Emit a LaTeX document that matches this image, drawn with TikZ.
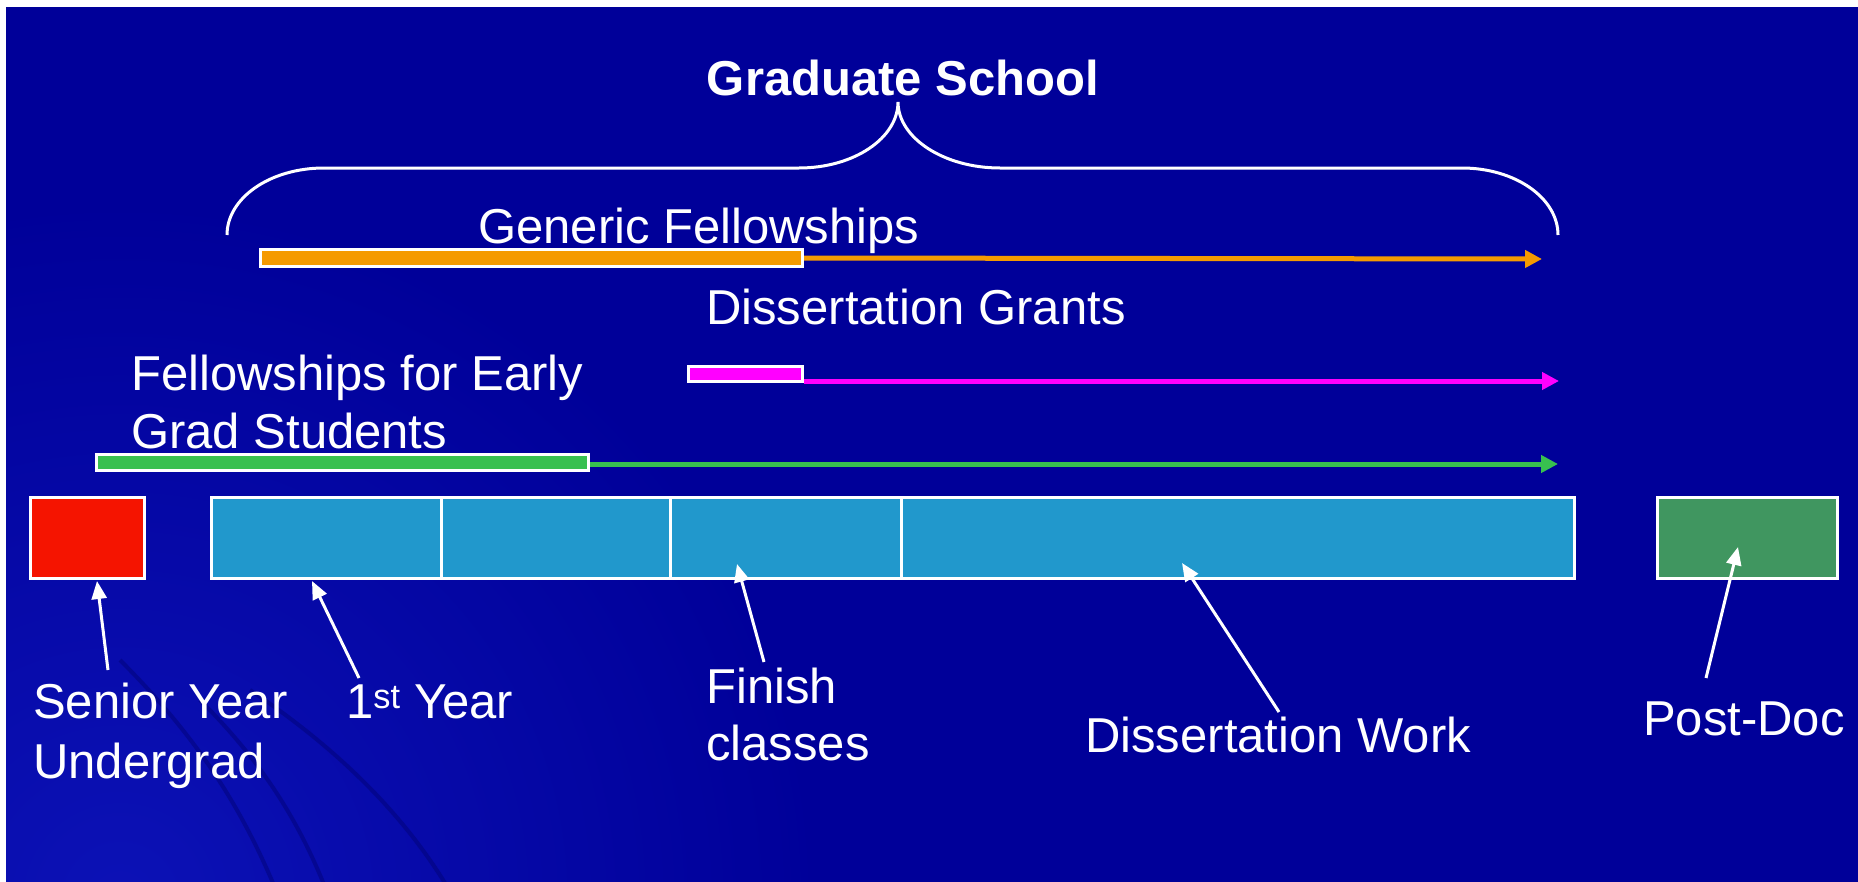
\documentclass[tikz,border=0pt]{standalone}
\usepackage{fontspec}
\setmainfont{Liberation Sans}
\usetikzlibrary{arrows.meta,calc}
\definecolor{bg}{RGB}{0,0,153}
\definecolor{bglight}{RGB}{12,18,182}
\definecolor{swoosh}{RGB}{0,0,105}
\definecolor{redbox}{RGB}{245,20,0}
\definecolor{cellblue}{RGB}{33,152,204}
\definecolor{pdgreen}{RGB}{64,150,96}
\definecolor{orangebar}{RGB}{245,154,0}
\definecolor{magbar}{RGB}{255,0,255}
\definecolor{greenbar}{RGB}{56,192,80}
\tikzset{
  box/.style={draw=white, line width=3pt, inner sep=0pt, outer sep=0pt, minimum height=81pt},
  bar/.style={draw=white, line width=3pt, inner sep=0pt, outer sep=1.5pt},
  lbl/.style={text=white, font=\fontsize{49}{58}\selectfont, inner sep=0pt, anchor=base west},
  ptr/.style={white, line width=3pt, -{Triangle[length=18pt,width=15pt]}},
  run/.style={line width=5pt, -{Triangle[length=17pt,width=17pt]}},
  brace/.style={white, line width=3pt},
  swooshline/.style={swoosh, line width=4pt, opacity=0.4}
}
\begin{document}
\begin{tikzpicture}[x=1pt,y=-1pt]
\useasboundingbox (0,0) rectangle (1858,881);
\fill[white] (-20,-20) rectangle (1880,900);
\fill[bg] (6,7) rectangle (1880,900);
\begin{scope}
  \clip (6,7) rectangle (1880,900);
  \shade[inner color=bglight, outer color=bg] (120,900) circle (700);
  \draw[swooshline] (120,660) .. controls (190,730) and (240,800) .. (280,900);
  \draw[swooshline] (200,700) .. controls (260,760) and (300,820) .. (330,900);
  \draw[swooshline] (250,690) .. controls (340,750) and (410,820) .. (455,900);
\end{scope}

% brace
\draw[brace] (227,235) .. controls (227,198) and (270,168) .. (324,168) -- (799,168)
  .. controls (854,168) and (898,138) .. (898,102)
  .. controls (898,138) and (944,168) .. (1000,168) -- (1462,168)
  .. controls (1515,168) and (1558,198) .. (1558,235);
\node[lbl, anchor=base, font=\fontsize{49}{58}\selectfont\bfseries] (grad) at (903,95) {Graduate School};

% funding bars
\node[lbl] (gen) at (478,243) {Generic Fellowships};
\node[bar, fill=orangebar, minimum width=542pt, minimum height=17pt] (obar) at (531.5,258) {};
\coordinate (otip) at (1542,259);
\draw[run, orangebar] (obar.east) -- (otip);

\node[lbl] (dg) at (706,324) {Dissertation Grants};
\node[bar, fill=magbar, minimum width=114pt, minimum height=15pt] (mbar) at (745.5,374) {};
\coordinate (mtip) at (1559,381);
\draw[run, magbar] (mbar.east |- mtip) -- (mtip);

\node[lbl] (fe1) at (131,390) {Fellowships for Early};
\node[lbl] (fe2) at (131,448) {Grad Students};
\node[bar, fill=greenbar, minimum width=492pt, minimum height=16pt] (gbar) at (342.5,462.5) {};
\coordinate (gtip) at (1558,464);
\draw[run, greenbar] (gbar.east |- gtip) -- (gtip);

% timeline boxes
\node[box, fill=redbox, minimum width=114pt] (red) at (87.5,538) {};
\node[box, fill=cellblue, minimum width=229.5pt] (y1) at (326.25,538) {};
\node[box, fill=cellblue, minimum width=229.5pt] (y2) at (555.75,538) {};
\node[box, fill=cellblue, minimum width=230.5pt] (y3) at (785.75,538) {};
\node[box, fill=cellblue, minimum width=673.5pt] (diss) at (1237.75,538) {};
\node[box, fill=pdgreen, minimum width=180pt] (pd) at (1747.5,538) {};

% labels
\node[lbl] (sen1) at (33,718) {Senior Year};
\node[lbl] (sen2) at (33,778) {Undergrad};
\node[lbl] (first) at (346,718) {1\textsuperscript{st} Year};
\node[lbl] (fin1) at (706,703) {Finish};
\node[lbl] (fin2) at (706,760) {classes};
\node[lbl] (dw) at (1085,752) {Dissertation Work};
\node[lbl] (post) at (1643,735) {Post-Doc};

% pointers
\coordinate (senS) at (108,670);  \coordinate (senT) at (97,581);
\coordinate (firS) at (359,678);  \coordinate (firT) at (312,581);
\coordinate (finS) at (764,662);  \coordinate (finT) at (737,564);
\coordinate (dwS) at (1279,712);  \coordinate (dwT) at (1182,563);
\coordinate (pdS) at (1706,678);  \coordinate (pdT) at (1738,547);
\draw[ptr] (senS) -- (senT);
\draw[ptr] (firS) -- (firT);
\draw[ptr] (finS) -- (finT);
\draw[ptr] (dwS) -- (dwT);
\draw[ptr] (pdS) -- (pdT);
\end{tikzpicture}
\end{document}
